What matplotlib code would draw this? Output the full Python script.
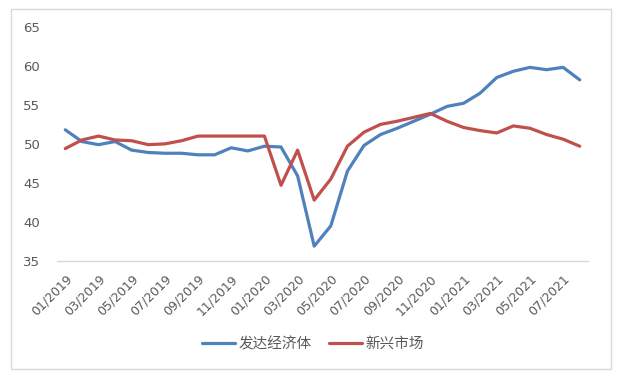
import matplotlib.pyplot as plt
from matplotlib.patches import Rectangle

plt.rcParams['font.family'] = ['Noto Sans CJK SC', 'DejaVu Sans']

months = ["01/2019", "02/2019", "03/2019", "04/2019", "05/2019", "06/2019",
          "07/2019", "08/2019", "09/2019", "10/2019", "11/2019", "12/2019",
          "01/2020", "02/2020", "03/2020", "04/2020", "05/2020", "06/2020",
          "07/2020", "08/2020", "09/2020", "10/2020", "11/2020", "12/2020",
          "01/2021", "02/2021", "03/2021", "04/2021", "05/2021", "06/2021",
          "07/2021", "08/2021"]

developed = [51.8, 50.3, 49.9, 50.3, 49.2, 48.9, 48.8, 48.8, 48.6, 48.6, 49.5, 49.1,
             49.7, 49.6, 45.9, 36.9, 39.5, 46.5, 49.8, 51.2, 52.0, 52.9, 53.8, 54.8,
             55.2, 56.5, 58.5, 59.3, 59.8, 59.5, 59.8, 58.2]

emerging = [49.4, 50.5, 51.0, 50.5, 50.4, 49.9, 50.0, 50.4, 51.0, 51.0, 51.0, 51.0,
            51.0, 44.7, 49.2, 42.8, 45.5, 49.7, 51.5, 52.5, 52.9, 53.4, 53.9, 52.9,
            52.1, 51.7, 51.4, 52.3, 52.0, 51.2, 50.6, 49.7]

fig = plt.figure(figsize=(6.18, 3.77), dpi=100)
ax = fig.add_axes([0.0922, 0.3077, 0.8593, 0.6213])

x = range(len(months))
ax.plot(x, developed, color='#4F81BD', lw=2.3, label='发达经济体', solid_capstyle='round')
ax.plot(x, emerging, color='#C0504D', lw=2.3, label='新兴市场', solid_capstyle='round')

ax.set_xlim(-0.5, len(months) - 0.5)
ax.set_ylim(35, 65)
ax.set_yticks(range(35, 66, 5))
ax.set_xticks(list(x)[::2])
ax.set_xticklabels(months[::2], rotation=45, ha='right', va='top',
                   rotation_mode='anchor', family='DejaVu Sans')
ax.tick_params(axis='x', length=0, pad=8, labelsize=9, labelcolor='#595959')
ax.tick_params(axis='y', length=0, pad=12, labelsize=9.5, labelcolor='#595959')
for lbl in ax.get_yticklabels():
    lbl.set_family('DejaVu Sans')

for s in ['top', 'right', 'left']:
    ax.spines[s].set_visible(False)
ax.spines['bottom'].set_color('#D9D9D9')
ax.spines['bottom'].set_linewidth(1)

fig.legend(loc='center', bbox_to_anchor=(0.506, 0.0875), ncol=2, frameon=False,
           fontsize=10.5, handlelength=2.3, handletextpad=0.2, columnspacing=1.2,
           labelcolor='#595959')

fig.patches.append(Rectangle((11 / 618, 1 - 369 / 377), 600 / 618, 360 / 377,
                             transform=fig.transFigure, fill=False,
                             edgecolor='#D9D9D9', lw=1))

fig.savefig('out.png', dpi=100)
